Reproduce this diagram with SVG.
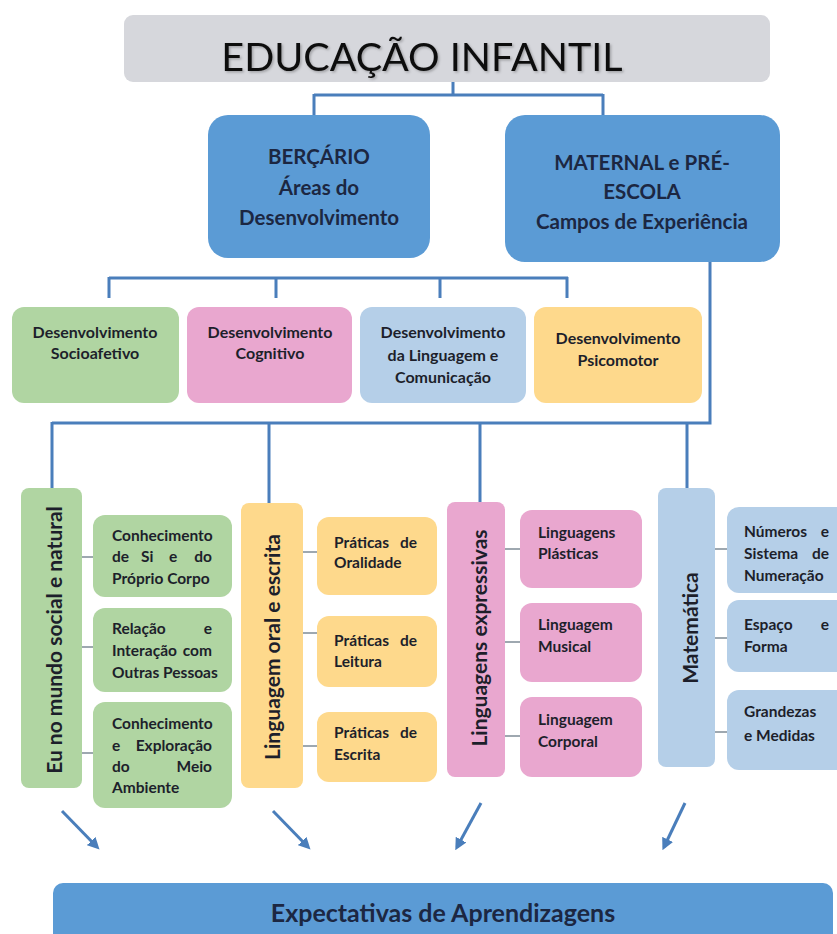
<svg xmlns="http://www.w3.org/2000/svg" width="837" height="934" viewBox="0 0 837 934">
<defs>
<style>
.t{font-family:Lato,"Open Sans","Liberation Sans",sans-serif;font-weight:700;fill:#1d1f2b}
.tb{font-family:Lato,"Open Sans","Liberation Sans",sans-serif;font-weight:700;fill:#1c2742}
.s{font-size:15.5px}
.m{font-size:16px}
.r{font-size:21px}
.c{text-anchor:middle}
.e{text-anchor:end}
.ln{stroke:#4a7ebb;stroke-width:3;fill:none}
.sl{stroke:#7f8c97;stroke-width:1.5;fill:none}
.ar{stroke:#4a7ebb;stroke-width:3;fill:none;marker-end:url(#ah)}
.blue{fill:#5b9bd5}
.green{fill:#b0d5a2}
.pink{fill:#e9a7cf}
.lblue{fill:#b5cfe8}
.yel{fill:#fed98c}
</style>
<marker id="ah" viewBox="0 0 10 10" refX="7" refY="5" markerWidth="4" markerHeight="4" orient="auto" markerUnits="strokeWidth">
<path d="M0,0 L10,5 L0,10 z" fill="#4a7ebb"/>
</marker>
<filter id="sh" x="-5%" y="-5%" width="115%" height="120%">
<feDropShadow dx="1.5" dy="1.5" stdDeviation="1.2" flood-color="#000" flood-opacity="0.25"/>
</filter>
</defs>
<rect width="837" height="934" fill="#ffffff"/>

<g id="connectors">
<path class="ln" d="M453,82 V95 M314,95 H603 M314,94 V115 M603,94 V115"/>
<path class="ln" d="M109,278 H568 M109,277 V298 M276,277 V298 M440,277 V298 M567,277 V298"/>
<path class="ln" d="M710,262 V423 H52 M52,422 V488 M269,422 V503 M480,422 V502 M687,422 V488"/>
<path class="sl" d="M82,557 H93 M82,647 H93 M82,753 H93"/>
<path class="sl" d="M303,552 H317 M303,633 H317 M303,746 H317"/>
<path class="sl" d="M505,549 H520 M505,642 H520 M505,736 H520"/>
<path class="sl" d="M715,549 H727 M715,638 H727 M715,732 H727"/>
<line class="ar" x1="62" y1="811" x2="97" y2="847"/>
<line class="ar" x1="273" y1="811" x2="308" y2="847"/>
<line class="ar" x1="481" y1="803" x2="457" y2="847"/>
<line class="ar" x1="685" y1="803" x2="664" y2="847"/>
</g>

<g id="educacao-infantil">
<rect x="124" y="15" width="646" height="67" rx="9" fill="#d6d7dc"/>
<text x="422" y="71" text-anchor="middle" filter="url(#sh)" style="font-family:Lato,'Open Sans','Liberation Sans',sans-serif;font-size:39.5px;fill:#111">EDUCAÇÃO INFANTIL</text>
</g>

<g id="bercario">
<rect class="blue" x="208" y="115" width="222" height="143" rx="20"/>
<text class="tb c" style="font-size:20.5px" x="319" y="164">BERÇÁRIO</text>
<text class="tb c" style="font-size:20.5px" x="319" y="195">Áreas do</text>
<text class="tb c" style="font-size:20.5px" x="319" y="225">Desenvolvimento</text>
</g>

<g id="maternal">
<rect class="blue" x="505" y="115" width="275" height="147" rx="20"/>
<text class="tb c" style="font-size:20.5px" x="642" y="170">MATERNAL e PRÉ-</text>
<text class="tb c" style="font-size:20.5px" x="642" y="199">ESCOLA</text>
<text class="tb c" style="font-size:20.5px" x="642" y="229">Campos de Experiência</text>
</g>

<g id="dev-socioafetivo">
<rect class="green" x="12" y="307" width="167" height="96" rx="12"/>
<text class="t m c" x="95" y="338">Desenvolvimento</text>
<text class="t m c" x="95" y="359">Socioafetivo</text>
</g>
<g id="dev-cognitivo">
<rect class="pink" x="187" y="307" width="165" height="96" rx="12"/>
<text class="t m c" x="270" y="338">Desenvolvimento</text>
<text class="t m c" x="270" y="359">Cognitivo</text>
</g>
<g id="dev-linguagem">
<rect class="lblue" x="360" y="307" width="166" height="96" rx="12"/>
<text class="t m c" x="443" y="338">Desenvolvimento</text>
<text class="t m c" x="443" y="361">da Linguagem e</text>
<text class="t m c" x="443" y="383">Comunicação</text>
</g>
<g id="dev-psicomotor">
<rect class="yel" x="534" y="307" width="168" height="96" rx="12"/>
<text class="t m c" x="618" y="344">Desenvolvimento</text>
<text class="t m c" x="618" y="366">Psicomotor</text>
</g>

<g id="eu-no-mundo">
<rect class="green" x="21" y="488" width="61" height="300" rx="8"/>
<text class="t r c" transform="translate(62,640) rotate(-90)" x="0" y="0">Eu no mundo social e natural</text>
</g>
<g id="conhecimento-si">
<rect class="green" x="93" y="515" width="139" height="82" rx="12"/>
<text class="t s" x="112" y="541">Conhecimento</text>
<text class="t s" y="562"><tspan x="112">de</tspan><tspan x="141">Si</tspan><tspan x="169">e</tspan><tspan x="212" class="e">do</tspan></text>
<text class="t s" x="112" y="584">Próprio Corpo</text>
</g>
<g id="relacao">
<rect class="green" x="93" y="608" width="139" height="84" rx="12"/>
<text class="t s" y="634"><tspan x="112">Relação</tspan><tspan x="212" class="e">e</tspan></text>
<text class="t s" y="656"><tspan x="112">Interação</tspan><tspan x="212" class="e">com</tspan></text>
<text class="t s" x="112" y="678">Outras Pessoas</text>
</g>
<g id="conhecimento-meio">
<rect class="green" x="93" y="702" width="139" height="106" rx="12"/>
<text class="t s" x="112" y="729">Conhecimento</text>
<text class="t s" y="751"><tspan x="112">e</tspan><tspan x="212" class="e">Exploração</tspan></text>
<text class="t s" y="772"><tspan x="112">do</tspan><tspan x="212" class="e">Meio</tspan></text>
<text class="t s" x="112" y="793">Ambiente</text>
</g>

<g id="linguagem-oral">
<rect class="yel" x="241" y="503" width="62" height="285" rx="8"/>
<text class="t r c" transform="translate(280,647) rotate(-90)" x="0" y="0">Linguagem oral e escrita</text>
</g>
<g id="oralidade">
<rect class="yel" x="317" y="517" width="120" height="78" rx="12"/>
<text class="t s" y="548"><tspan x="334">Práticas</tspan><tspan x="417" class="e">de</tspan></text>
<text class="t s" x="334" y="568">Oralidade</text>
</g>
<g id="leitura">
<rect class="yel" x="317" y="616" width="120" height="71" rx="12"/>
<text class="t s" y="646"><tspan x="334">Práticas</tspan><tspan x="417" class="e">de</tspan></text>
<text class="t s" x="334" y="667">Leitura</text>
</g>
<g id="escrita">
<rect class="yel" x="317" y="712" width="120" height="70" rx="12"/>
<text class="t s" y="738"><tspan x="334">Práticas</tspan><tspan x="417" class="e">de</tspan></text>
<text class="t s" x="334" y="760">Escrita</text>
</g>

<g id="linguagens-expressivas">
<rect class="pink" x="447" y="502" width="58" height="275" rx="8"/>
<text class="t r c" transform="translate(487,638) rotate(-90)" x="0" y="0">Linguagens expressivas</text>
</g>
<g id="plasticas">
<rect class="pink" x="520" y="510" width="122" height="78" rx="12"/>
<text class="t s" x="538" y="538">Linguagens</text>
<text class="t s" x="538" y="559">Plásticas</text>
</g>
<g id="musical">
<rect class="pink" x="520" y="603" width="122" height="79" rx="12"/>
<text class="t s" x="538" y="630">Linguagem</text>
<text class="t s" x="538" y="652">Musical</text>
</g>
<g id="corporal">
<rect class="pink" x="520" y="697" width="122" height="80" rx="12"/>
<text class="t s" x="538" y="725">Linguagem</text>
<text class="t s" x="538" y="747">Corporal</text>
</g>

<g id="matematica">
<rect class="lblue" x="658" y="488" width="57" height="279" rx="8"/>
<text class="t r c" transform="translate(698,628) rotate(-90)" x="0" y="0">Matemática</text>
</g>
<g id="numeros">
<rect class="lblue" x="727" y="507" width="125" height="86" rx="12"/>
<text class="t s" y="537"><tspan x="744">Números</tspan><tspan x="829" class="e">e</tspan></text>
<text class="t s" y="559"><tspan x="744">Sistema</tspan><tspan x="829" class="e">de</tspan></text>
<text class="t s" x="744" y="581">Numeração</text>
</g>
<g id="espaco">
<rect class="lblue" x="727" y="600" width="125" height="72" rx="12"/>
<text class="t s" y="630"><tspan x="744">Espaço</tspan><tspan x="829" class="e">e</tspan></text>
<text class="t s" x="744" y="652">Forma</text>
</g>
<g id="grandezas">
<rect class="lblue" x="727" y="690" width="125" height="80" rx="12"/>
<text class="t s" x="744" y="717">Grandezas</text>
<text class="t s" x="744" y="741">e Medidas</text>
</g>

<g id="expectativas">
<rect class="blue" x="53" y="883" width="780" height="70" rx="10"/>
<text class="tb c" style="font-size:25px" x="443" y="922">Expectativas de Aprendizagens</text>
</g>
</svg>
